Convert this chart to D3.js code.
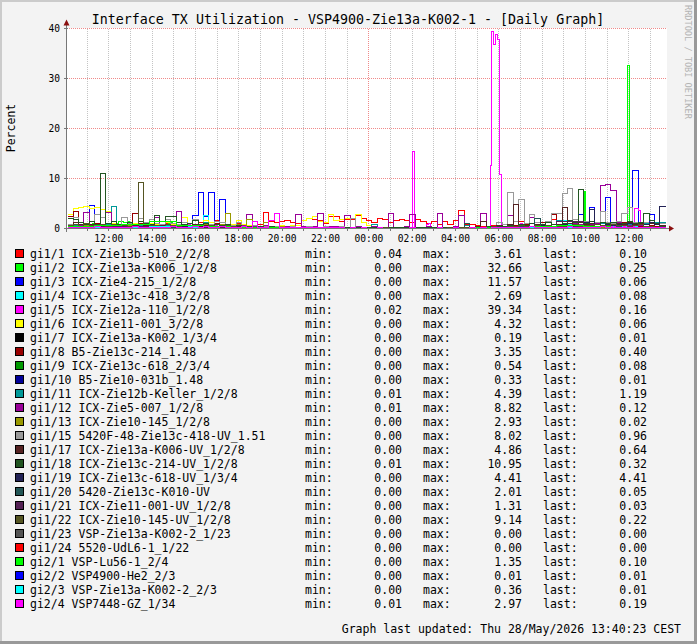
<!DOCTYPE html>
<html>
<head>
<meta charset="utf-8">
<script src="https://cdn.jsdelivr.net/npm/d3@7"></script>
<style>
  body { margin: 0; background: #fff; }
  svg { display: block; }
  text { font-family: "DejaVu Sans Mono", monospace; fill: #000; }
</style>
</head>
<body>
<svg id="chart"></svg>
<script>
// ---- legend / series meta ----
const seriesNames = [
  "gi1/1 ICX-Zie13b-510_2/2/8", "gi1/2 ICX-Zie13a-K006_1/2/8", "gi1/3 ICX-Zie4-215_1/2/8",
  "gi1/4 ICX-Zie13c-418_3/2/8", "gi1/5 ICX-Zie12a-110_1/2/8", "gi1/6 ICX-Zie11-001_3/2/8",
  "gi1/7 ICX-Zie13a-K002_1/3/4", "gi1/8 B5-Zie13c-214_1.48", "gi1/9 ICX-Zie13c-618_2/3/4",
  "gi1/10 B5-Zie10-031b_1.48", "gi1/11 ICX-Zie12b-Keller_1/2/8", "gi1/12 ICX-Zie5-007_1/2/8",
  "gi1/13 ICX-Zie10-145_1/2/8", "gi1/15 5420F-48-Zie13c-418-UV_1.51", "gi1/17 ICX-Zie13a-K006-UV_1/2/8",
  "gi1/18 ICX-Zie13c-214-UV_1/2/8", "gi1/19 ICX-Zie13c-618-UV_1/3/4", "gi1/20 5420-Zie13c-K010-UV",
  "gi1/21 ICX-Zie11-001-UV_1/2/8", "gi1/22 ICX-Zie10-145-UV_1/2/8", "gi1/23 VSP-Zie13a-K002-2_1/23",
  "gi1/24 5520-UdL6-1_1/22", "gi2/1 VSP-Lu56-1_2/4", "gi2/2 VSP4900-He2_2/3",
  "gi2/3 VSP-Zie13a-K002-2_2/3", "gi2/4 VSP7448-GZ_1/34"
];
const seriesColors = [
  "#ff0000", "#00ff00", "#0000ff", "#00ffff", "#ff00ff", "#ffff00", "#000000", "#990000",
  "#009900", "#000099", "#009999", "#990099", "#999900", "#999999", "#552222", "#225522",
  "#222255", "#225555", "#552255", "#555522", "#555555", "#ff0000", "#00ff00", "#0000ff",
  "#00ffff", "#ff00ff"
];
const statMin  = [0.04,0.00,0.00,0.00,0.02,0.00,0.00,0.00,0.00,0.00,0.01,0.01,0.00,0.00,0.00,0.01,0.00,0.00,0.00,0.00,0.00,0.00,0.00,0.00,0.00,0.01];
const statMax  = [3.61,32.66,11.57,2.69,39.34,4.32,0.19,3.35,0.54,0.33,4.39,8.82,2.93,8.02,4.86,10.95,4.41,2.01,1.31,9.14,0.00,0.00,1.35,0.01,0.36,2.97];
const statLast = [0.10,0.25,0.06,0.08,0.16,0.06,0.01,0.40,0.08,0.01,1.19,0.12,0.02,0.96,0.64,0.32,4.41,0.05,0.03,0.22,0.00,0.00,0.10,0.01,0.01,0.19];

const yTicks = [0, 10, 20, 30, 40];

// ---- time window ----
const viewStart = new Date(2026, 4, 27, 10, 5, 40);
const viewEnd   = new Date(2026, 4, 28, 13, 47, 0);
const dataStart = new Date(2026, 4, 27, 10, 6, 0);
const dataEnd   = new Date(2026, 4, 28, 13, 41, 0);

// ---- series values (each array spans dataStart..dataEnd evenly) ----
const gi1_1 = [
  0.5,0.6,0.4,0.8,0.5,0.3,0.6,0.9,0.5,0.4,
  0.7,1.2,0.6,0.4,0.5,0.8,0.6,0.4,1.0,0.5,
  0.3,0.6,0.4,0.8,1.3,0.6,0.5,1.6,0.7,0.4,
  0.6,1.1,0.5,0.3,0.6,0.9,3.2,1.5,1.3,1.4,
  1.6,1.2,1.0,1.6,2.1,1.9,1.6,1.1,2.5,2.4,
  1.4,1.9,1.8,2.7,2.0,1.6,1.2,2.1,1.8,1.2,
  1.6,1.9,1.7,1.2,1.9,1.5,1.0,1.5,0.8,1.4,
  0.8,1.6,3.61,0.8,0.8,0.6,0.5,0.4,0.6,0.4,
  0.4,0.3,0.5,1.4,0.4,0.3,0.6,0.4,0.5,1.8,
  0.4,0.6,0.3,0.5,0.7,0.4,0.3,0.5,1.2,0.4,
  0.3,0.6,0.4,0.3,0.5,0.8,0.3,0.4,0.2,0.1
];
// 5-minute samples
const gi1_2 = [
  0.6,0.6,0.7,0.8,0.8,0.9,0.8,0.7,0.8,0.9,0.9,0.8,0.8,0.9,1.0,0.9,0.8,0.8,0.9,0.9,0.8,0.9,1.0,0.9,
  0.9,0.8,0.9,1.0,1.4,1.5,1.5,1.3,1.3,1.4,1.3,1.2,1.1,0.9,0.9,0.8,0.9,1.0,0.9,0.8,0.8,0.9,0.9,0.8,
  0.8,0.9,1.0,0.9,0.8,0.7,0.8,0.9,1.1,1.2,1.1,0.9,0.8,0.7,0.7,0.8,0.9,0.8,0.7,0.7,0.6,0.7,0.8,0.7,
  0.6,0.6,0.7,0.6,0.5,0.6,0.7,0.6,0.5,0.5,0.6,0.5,0.5,0.4,0.5,0.6,0.5,0.4,0.4,0.5,0.4,0.4,0.5,0.4,
  0.4,0.3,0.3,0.4,0.3,0.3,0.4,0.3,0.3,0.3,0.4,0.3,0.3,0.3,0.3,0.3,0.4,0.3,0.3,0.3,0.3,0.3,0.3,0.3,
  0.3,0.3,0.2,0.3,0.3,0.3,0.2,0.3,0.3,0.3,0.3,0.2,0.3,0.3,0.3,0.3,0.2,0.3,0.3,0.2,0.3,0.3,0.3,0.3,
  0.3,0.2,0.3,0.3,0.2,0.3,0.3,0.3,0.2,0.3,0.3,0.2,0.3,0.2,0.3,0.3,0.2,0.2,0.3,0.2,0.2,0.3,0.2,0.2,
  0.2,0.2,0.1,0.2,0.2,0.2,0.1,0.2,0.2,0.1,0.2,0.2,0.2,0.1,0.2,0.2,0.1,0.2,0.2,0.2,0.1,0.2,0.2,0.1,
  0.1,0.2,0.1,0.1,0.2,0.1,0.1,0.1,0.2,0.1,0.1,0.1,0.2,0.1,0.1,0.1,0.1,0.2,0.1,0.1,0.1,0.1,0.2,0.1,
  0.1,0.1,0.1,0.2,0.1,0.1,0.1,0.1,0.2,0.1,0.1,0.1,0.1,0.1,0.2,0.1,0.1,0.1,0.1,0.2,0.1,0.1,0.2,0.2,
  0.2,0.2,0.3,0.2,0.2,0.3,0.2,0.3,0.3,0.2,0.3,0.3,0.2,0.3,0.4,0.3,0.3,0.2,0.3,0.4,0.3,0.3,0.4,0.3,
  0.3,0.4,0.3,0.3,0.4,0.5,0.3,0.4,0.3,0.4,0.5,0.4,0.3,0.4,0.4,0.3,0.5,0.4,0.3,0.4,0.5,0.4,7.4,0.5,
  0.4,0.3,0.4,0.5,0.4,0.3,0.4,0.3,0.5,0.4,0.3,0.4,0.3,0.4,0.5,0.4,0.3,0.4,0.3,0.4,0.5,0.4,32.66,0.4,
  0.3,0.4,0.3,0.5,0.4,0.3,0.4,0.3,0.3,0.4,0.3,0.4,0.3,0.3,0.4,0.3,0.3,0.2,0.25
];
const gi1_3 = [
  0.2,0.3,0.2,0.4,4.6,0.5,0.3,0.2,0.3,0.2,
  0.3,0.2,0.4,0.3,0.2,0.3,0.5,0.3,0.2,0.4,
  0.3,0.2,0.5,2.6,7.3,2.5,7.2,0.8,5.7,0.4,
  0.3,0.2,0.2,0.3,0.2,0.1,0.2,0.1,0.1,0.1,
  0.1,0.1,0.1,0.1,0.1,0.1,0.1,0.1,0.1,0.1,
  0.1,0.1,0.0,0.1,0.1,0.0,0.1,0.1,0.0,0.1,
  0.0,0.1,0.0,0.0,0.1,0.0,0.0,0.1,0.0,0.0,
  0.1,0.0,0.0,0.1,0.0,0.1,0.0,0.1,0.2,0.1,
  0.2,0.1,0.3,0.2,0.4,0.3,0.2,0.5,0.3,0.4,
  0.3,0.5,0.4,0.6,2.9,0.8,4.2,0.9,0.7,6.3,
  1.2,0.8,0.6,0.9,11.57,0.7,0.5,2.9,0.4,0.06
];
const gi1_4 = [
  0.1,0.2,0.1,0.2,0.3,0.2,0.1,0.2,0.3,0.2,
  0.2,0.3,0.2,0.1,0.2,0.3,0.2,0.2,0.3,0.2,
  0.2,0.3,0.4,0.3,0.5,2.69,0.6,0.3,0.2,0.2,
  0.1,0.2,0.1,0.1,0.2,0.1,0.1,0.1,0.1,0.1,
  0.1,0.1,0.0,0.1,0.1,0.0,0.1,0.0,0.1,0.0,
  0.0,0.1,0.0,0.0,0.0,0.1,0.0,0.0,0.0,0.0,
  0.0,0.0,0.1,0.0,0.0,0.0,0.0,0.1,0.0,0.0,
  0.0,0.1,0.0,0.0,0.1,0.0,0.1,0.0,0.1,0.1,
  0.1,0.2,0.1,0.3,0.2,0.4,0.2,0.3,0.5,0.3,
  0.4,1.6,0.8,0.5,0.4,0.6,0.3,0.5,0.4,0.3,
  0.4,0.3,0.5,0.3,0.4,0.2,0.3,0.2,0.1,0.08
];
// 5-minute samples
const gi1_5 = [
  0.9,0.9,0.9,0.8,0.8,0.7,0.7,0.7,0.6,0.6,0.7,0.6,0.6,0.5,0.6,0.6,0.5,0.5,0.6,0.5,0.5,0.6,0.5,0.5,
  0.5,0.6,0.5,0.5,0.6,0.7,0.6,0.5,0.5,0.6,0.5,0.5,0.6,0.5,0.6,0.7,0.6,0.6,0.7,0.6,0.5,0.6,0.6,0.7,
  0.7,0.6,0.7,0.8,0.7,0.6,0.7,0.7,0.8,0.9,0.8,0.7,0.7,0.8,0.7,0.6,0.7,0.8,0.9,0.8,0.7,0.6,0.7,0.6,
  0.6,0.5,0.6,0.7,0.6,0.5,0.5,0.6,0.5,0.5,0.6,0.5,0.4,0.5,0.5,0.4,0.5,0.4,0.4,0.5,0.4,0.4,0.5,0.4,
  0.4,0.4,0.3,0.4,0.4,0.3,0.4,0.4,0.3,0.3,0.4,0.3,0.3,0.4,0.3,0.3,0.3,0.4,0.3,0.3,0.3,0.3,0.3,0.3,
  0.3,0.3,0.2,0.3,0.3,0.2,0.3,0.3,0.2,0.3,0.2,0.2,0.3,0.2,0.3,0.2,0.2,0.3,0.2,0.2,0.2,0.3,0.2,0.2,
  0.2,0.2,0.2,0.1,0.2,0.2,0.1,0.2,0.2,0.2,0.1,0.2,0.1,0.2,0.2,0.1,0.1,0.2,0.1,0.1,0.2,0.1,0.1,0.1,
  0.1,0.1,0.1,0.1,0.2,0.1,0.1,0.1,0.1,0.1,0.1,0.1,0.1,0.1,0.1,0.1,0.1,0.1,0.1,0.2,0.1,0.1,0.1,15.4,
  0.2,0.1,0.1,0.1,0.1,0.1,0.1,0.9,1.1,0.2,0.1,0.1,0.1,0.1,0.1,0.1,0.1,0.1,0.1,0.1,0.1,0.1,0.1,0.1,
  0.1,0.1,0.1,0.1,0.1,0.1,0.1,0.1,0.1,0.1,0.1,0.1,0.1,0.1,0.2,0.2,0.2,0.3,12.7,39.34,36.9,38.7,37.9,10.9,
  0.4,0.3,0.3,0.4,0.3,0.3,0.4,0.3,0.3,0.3,0.4,1.0,0.9,0.3,0.3,0.4,0.3,0.3,0.4,0.3,0.3,0.4,0.3,0.3,
  0.3,0.4,0.3,0.3,0.4,0.3,0.3,0.4,0.3,0.3,0.4,0.3,0.3,0.4,0.3,0.4,0.3,0.3,0.4,0.3,0.3,0.4,0.3,0.3,
  0.3,0.4,0.3,0.3,0.4,0.5,0.4,0.3,0.4,0.3,0.4,0.3,0.3,0.4,0.3,0.4,0.3,0.3,0.4,0.3,0.4,0.3,0.3,0.4,
  0.3,0.4,4.0,4.0,3.6,0.4,0.3,0.4,0.3,0.3,0.4,0.3,0.2,0.3,0.2,0.3,0.2,0.2,0.16
];
const gi1_6 = [
  2.8,4.0,4.3,4.32,4.0,4.1,3.7,3.4,1.0,0.8,
  0.9,0.7,1.1,0.8,0.6,1.0,0.8,0.7,1.2,0.9,
  0.8,2.3,1.0,0.7,0.9,1.6,1.2,0.8,0.6,0.7,
  0.9,1.6,0.8,0.6,0.7,0.5,0.6,0.4,0.5,0.6,
  0.5,0.7,0.6,1.7,2.0,2.5,1.4,1.2,2.9,1.6,
  1.8,2.1,2.0,2.9,1.3,0.6,0.4,0.3,0.2,0.2,
  0.2,0.1,0.2,0.1,0.1,0.2,0.1,0.1,0.1,0.1,
  0.1,0.1,0.1,0.2,0.1,0.1,0.1,0.2,0.1,0.1,
  0.2,0.1,0.2,0.3,0.2,0.1,0.2,0.3,0.2,0.2,
  0.3,0.2,0.4,0.3,0.2,0.5,0.3,0.2,0.4,0.3,
  0.2,0.3,0.2,0.4,0.2,0.3,0.1,0.2,0.1,0.06
];
const gi1_7 = [0.05,0.08,0.1,0.06,0.12,0.19,0.07,0.04,0.03,0.02,0.02,0.02,0.01,0.02,0.01,0.03,0.05,0.08,0.1,0.06,0.04,0.01];
const gi1_8 = [
  2.5,3.35,1.2,0.8,0.6,1.0,0.7,0.5,0.9,0.6,
  0.8,0.5,3.0,1.1,0.6,0.8,0.5,0.7,0.9,0.6,
  0.5,0.8,0.6,0.4,0.7,0.5,0.6,1.1,0.5,0.4,
  0.6,0.4,0.5,0.3,0.4,0.3,0.5,0.3,0.2,0.3,
  0.2,0.3,0.2,0.2,0.3,0.2,0.2,0.3,0.2,0.2,
  0.2,0.2,0.1,0.2,0.2,0.1,0.2,0.1,0.1,0.2,
  0.1,0.1,0.2,0.1,0.1,0.1,0.2,0.1,0.1,0.1,
  0.1,0.2,0.1,0.1,0.2,0.1,0.3,0.2,0.4,0.3,
  0.5,0.3,0.6,0.4,0.8,0.5,0.7,1.2,0.6,2.9,
  0.7,0.9,0.6,1.3,0.8,1.1,0.7,0.9,0.6,1.0,
  0.8,0.6,1.2,0.7,0.9,0.5,0.8,0.6,0.5,0.40
];
const gi1_9  = [0.3,0.4,0.5,0.4,0.54,0.3,0.2,0.2,0.1,0.1,0.1,0.1,0.1,0.1,0.1,0.2,0.3,0.3,0.4,0.3,0.2,0.08];
const gi1_10 = [0.2,0.3,0.2,0.33,0.2,0.1,0.1,0.1,0.05,0.05,0.03,0.02,0.02,0.02,0.03,0.05,0.1,0.2,0.3,0.2,0.1,0.01];
const gi1_11 = [
  0.4,0.6,0.5,0.7,0.5,0.8,0.6,0.9,4.39,0.7,
  0.6,0.5,0.8,0.6,0.5,0.7,0.6,0.5,0.7,0.6,
  0.5,0.4,0.6,0.5,0.7,1.2,0.6,0.5,0.4,0.5,
  0.4,0.3,0.4,0.3,0.3,0.2,0.3,0.2,0.2,0.3,
  0.2,0.2,0.3,0.2,0.2,0.2,0.3,0.2,0.2,0.2,
  0.2,0.2,0.2,0.3,0.2,0.2,0.8,0.2,0.2,0.2,
  0.2,0.1,0.2,0.2,0.1,0.2,0.2,0.1,0.2,0.2,
  0.2,0.3,0.2,0.6,0.2,0.3,0.2,0.3,0.4,0.3,
  0.4,0.3,0.5,0.4,0.6,0.5,0.4,0.7,0.6,0.5,
  1.6,0.8,0.7,0.9,0.6,0.8,0.7,0.9,1.1,0.8,
  0.9,0.7,1.0,0.8,1.2,0.9,1.1,1.0,1.3,1.19
];
const gi1_12 = [
  0.5,0.8,0.6,3.2,0.7,0.5,0.9,3.3,0.6,0.8,
  0.5,0.7,0.6,0.8,0.5,0.6,2.3,0.7,0.5,0.6,
  3.4,0.7,0.6,0.8,0.5,0.7,0.6,0.5,0.8,0.6,
  0.5,0.7,0.6,2.8,0.5,0.4,0.6,0.5,0.4,0.5,
  0.4,0.5,2.9,0.4,0.5,0.4,3.1,0.4,0.5,0.4,
  0.4,2.6,0.3,0.4,0.3,0.3,0.4,0.3,0.3,3.1,
  0.3,0.3,0.4,2.9,0.3,0.3,0.4,0.3,3.1,0.3,
  0.3,0.4,2.6,0.3,0.3,0.4,3.1,0.3,0.4,0.3,
  0.4,2.6,0.5,0.4,0.6,2.3,0.5,0.7,0.6,0.8,
  0.7,0.9,0.6,1.0,0.8,1.2,0.9,1.1,8.6,8.82,
  7.6,1.3,0.9,0.7,0.8,0.6,0.5,0.4,0.3,0.12
];
const gi1_13 = [
  0.3,0.5,0.4,0.6,0.4,0.5,0.7,0.4,0.6,0.5,
  0.4,0.6,0.5,0.4,0.7,0.5,0.6,0.4,0.5,0.6,
  0.5,0.4,0.6,0.5,0.7,0.8,0.6,0.5,0.9,2.93,
  0.6,0.8,0.5,1.9,0.6,0.5,1.2,0.4,0.3,0.4,
  0.3,0.2,0.3,0.2,0.2,0.3,0.2,0.2,0.1,0.2,
  0.1,0.1,0.1,0.1,0.1,0.1,0.1,0.1,0.1,0.1,
  0.1,0.1,0.1,0.1,0.1,0.1,0.1,0.1,0.1,0.1,
  0.1,0.1,0.1,0.1,0.1,0.1,0.1,0.1,0.1,0.1,
  0.1,0.2,0.1,0.2,0.3,0.2,0.3,0.2,0.4,0.3,
  0.2,0.3,0.4,0.3,0.2,0.3,0.4,0.2,0.3,0.2,
  0.3,0.2,0.1,0.2,0.1,0.2,0.1,0.1,0.1,0.02
];
const gi1_15 = [
  0.9,2.3,1.2,0.8,1.5,2.8,2.3,1.0,0.8,0.9,
  2.3,1.1,0.9,2.0,1.2,1.9,1.0,0.8,1.8,1.1,
  0.9,1.2,1.0,1.9,0.8,1.1,0.9,1.4,1.3,0.7,
  0.6,1.3,0.5,0.4,0.6,0.4,0.5,0.3,0.4,0.3,
  0.3,0.4,0.3,0.3,0.4,0.3,0.3,0.4,0.3,0.3,
  0.4,0.3,2.0,0.3,0.3,0.2,0.3,0.2,0.2,0.3,
  0.2,0.2,0.3,0.2,0.2,0.3,0.2,0.2,0.3,0.2,
  0.2,0.3,0.2,0.3,0.2,0.4,0.3,0.5,0.4,1.2,
  0.8,7.3,1.5,5.7,1.1,2.8,1.2,0.9,1.5,3.0,
  3.0,7.0,8.02,1.8,1.2,1.5,1.0,1.3,3.5,1.2,
  1.0,1.4,3.0,4.3,1.2,0.9,1.3,1.1,0.8,0.96
];
const gi1_17 = [
  0.6,1.2,0.8,0.5,0.9,0.6,0.7,1.0,0.5,0.8,
  0.6,0.9,0.7,1.5,0.6,0.8,0.5,0.7,0.9,0.6,
  0.5,0.7,0.6,0.8,0.5,0.6,0.4,0.5,0.6,0.4,
  0.3,0.4,0.3,0.2,0.3,0.2,0.3,0.2,0.2,0.3,
  0.2,0.2,0.2,0.3,0.2,0.2,0.2,0.2,0.3,0.2,
  0.2,0.2,0.2,0.2,0.3,0.2,0.2,0.2,0.2,0.2,
  0.2,0.2,0.2,0.2,0.2,0.3,0.2,0.2,0.2,0.2,
  0.2,0.2,0.3,0.2,0.2,0.4,1.4,0.5,0.4,0.6,
  0.5,0.8,4.86,0.9,0.6,1.1,0.8,0.7,1.2,0.9,
  0.8,4.1,1.0,0.9,1.3,0.8,1.1,0.9,1.2,1.0,
  0.9,1.1,0.8,1.3,0.9,1.0,0.8,1.1,0.9,0.64
];
const gi1_18 = [
  2.0,1.8,1.2,0.9,1.4,0.8,10.95,1.0,1.5,0.9,
  0.8,1.2,0.9,1.4,1.1,0.8,2.7,1.5,2.4,2.5,
  1.2,0.9,1.1,1.7,0.8,1.0,0.7,0.9,0.6,0.8,
  0.5,0.6,0.4,0.5,0.3,0.4,0.3,0.4,0.3,0.3,
  0.3,0.2,0.3,0.2,0.3,0.2,0.2,0.3,0.2,0.2,
  0.2,0.2,0.3,0.2,0.2,0.2,0.2,0.3,0.2,0.2,
  0.2,0.2,0.2,0.3,0.2,0.2,0.2,0.2,0.2,0.3,
  0.2,0.2,0.3,0.2,0.3,0.2,0.3,0.4,0.3,0.5,
  0.4,0.6,0.5,0.8,0.6,1.0,0.7,0.9,1.2,0.8,
  1.4,1.0,1.6,1.2,7.9,1.1,1.4,0.9,1.2,1.0,
  1.3,0.9,1.1,1.4,1.0,1.2,3.0,1.6,1.1,0.32
];
const gi1_19 = [
  0.3,0.4,0.3,0.5,0.4,0.3,0.4,0.5,0.3,0.4,
  0.3,0.4,0.5,0.3,0.4,0.3,0.5,0.4,0.3,0.4,
  0.3,0.4,0.3,0.5,0.3,0.4,0.3,0.3,0.4,0.3,
  0.2,0.3,0.2,0.2,0.3,0.2,0.2,0.2,0.1,0.2,
  0.1,0.2,0.1,0.1,0.2,0.1,0.1,0.1,0.1,0.1,
  0.1,0.1,0.1,0.1,0.1,0.1,0.1,0.1,0.1,0.1,
  0.1,0.1,0.1,0.1,0.1,0.1,0.1,0.1,0.1,0.1,
  0.1,0.1,0.1,0.1,0.2,0.1,0.2,0.1,0.2,0.2,
  0.3,0.2,0.4,0.3,0.5,0.4,0.3,0.6,0.4,0.5,
  0.6,0.8,0.5,0.9,0.7,1.2,3.8,0.8,0.6,0.9,
  0.7,0.8,0.6,1.0,0.7,0.9,0.8,1.2,0.9,4.41
];
const gi1_20 = [
  0.3,0.4,0.3,0.5,0.4,0.3,0.4,0.3,0.5,0.4,
  0.3,0.4,0.3,0.4,0.3,0.5,0.3,0.4,0.3,0.3,
  0.4,0.3,0.3,0.4,0.3,0.3,0.2,0.3,0.2,0.3,
  0.2,0.2,0.2,0.1,0.2,0.1,0.1,0.2,0.1,0.1,
  0.1,0.1,0.1,0.1,0.1,0.1,0.1,0.1,0.1,0.1,
  0.1,0.1,0.1,0.1,0.1,0.1,0.1,0.1,0.1,0.1,
  0.1,0.1,0.1,0.1,0.1,0.1,0.1,0.1,0.1,0.1,
  0.1,0.1,0.1,1.0,0.1,0.1,0.2,0.1,0.2,0.2,
  0.2,0.3,0.2,0.4,0.3,0.2,2.01,0.3,0.4,0.3,
  0.4,0.3,0.5,0.4,0.3,0.5,0.4,0.3,0.4,0.3,
  0.3,0.4,0.3,0.2,0.3,0.2,0.1,0.2,0.1,0.05
];
const gi1_21 = [0.3,0.4,0.5,0.4,0.3,0.2,0.2,0.1,0.1,0.1,0.1,0.1,0.1,0.1,0.1,0.2,0.3,0.4,1.31,0.5,0.3,0.03];
const gi1_22 = [
  0.6,0.8,0.5,1.0,0.7,0.6,0.9,0.5,0.8,0.6,
  0.7,0.5,0.9,9.14,0.8,0.6,0.7,0.5,0.8,0.6,
  0.5,0.7,0.6,0.4,0.6,0.5,0.7,0.4,0.5,0.6,
  0.4,0.3,0.4,0.3,0.2,0.3,0.2,0.2,0.3,0.2,
  0.2,0.1,0.2,0.1,0.2,0.1,0.1,0.2,0.1,0.1,
  0.1,0.1,0.2,0.1,0.1,0.1,0.1,0.1,0.2,0.1,
  0.1,0.1,0.1,0.2,0.1,0.1,0.1,0.1,0.1,0.1,
  0.2,0.1,0.2,0.2,0.3,0.2,0.3,0.2,0.4,0.3,
  0.3,0.5,0.4,0.6,0.5,0.4,0.7,0.5,0.6,0.4,
  0.5,0.7,0.6,0.8,0.5,0.7,0.6,0.9,0.7,0.6,
  0.8,0.6,0.7,0.5,0.6,0.8,0.5,0.4,0.3,0.22
];
const gi1_23 = [0,0,0,0,0,0,0,0,0,0,0,0,0,0,0,0,0,0,0,0,0,0];
const gi1_24 = [0,0,0,0,0,0,0,0,0,0,0,0,0,0,0,0,0,0,0,0,0,0];
const gi2_1  = [0.4,0.6,0.8,1.35,0.7,0.5,0.3,0.2,0.1,0.1,0.1,0.1,0.1,0.1,0.1,0.2,0.3,0.5,0.6,0.4,0.3,0.10];
const gi2_2  = [0.01,0,0,0.01,0,0,0,0,0,0,0,0,0,0,0,0,0,0.01,0,0,0,0.01];
const gi2_3  = [0.1,0.2,0.3,0.36,0.2,0.1,0.1,0.05,0.02,0.02,0.02,0.02,0.02,0.02,0.05,0.1,0.2,0.3,0.2,0.1,0.05,0.01];
const gi2_4 = [
  0.2,0.3,0.2,0.3,0.2,0.4,0.3,0.2,0.3,0.2,
  0.3,0.2,0.4,0.3,0.2,0.3,0.2,0.3,0.2,0.4,
  0.3,0.2,0.3,0.5,0.3,0.4,0.3,0.2,0.4,0.3,
  0.2,0.3,0.4,0.3,1.4,0.2,0.3,1.6,2.97,0.3,
  0.2,0.3,0.2,0.2,0.3,0.2,0.2,0.3,0.2,0.2,
  0.2,0.1,0.2,0.1,0.2,0.1,0.1,0.2,0.1,0.1,
  0.1,0.1,0.1,0.2,0.1,0.1,0.1,0.1,0.2,0.1,
  0.1,0.2,0.1,0.1,0.2,0.1,0.2,0.1,0.2,0.2,
  0.2,0.3,0.2,0.3,0.2,0.4,0.3,0.2,0.3,0.2,
  0.3,0.2,0.4,0.3,0.2,0.3,0.2,0.3,0.4,0.3,
  0.2,0.3,0.2,0.3,0.2,0.3,0.2,0.2,0.3,0.19
];

const seriesValues = [
  gi1_1, gi1_2, gi1_3, gi1_4, gi1_5, gi1_6, gi1_7, gi1_8, gi1_9, gi1_10, gi1_11, gi1_12, gi1_13,
  gi1_15, gi1_17, gi1_18, gi1_19, gi1_20, gi1_21, gi1_22, gi1_23, gi1_24, gi2_1, gi2_2, gi2_3, gi2_4
];

// ---- layout ----
const W = 697, H = 644;
const plotLeft = 67, plotRight = 667, plotTop = 28.5, plotBottom = 228.5;

const svg = d3.select("#chart").attr("width", W).attr("height", H);

svg.append("rect").attr("width", W).attr("height", H).attr("fill", "#f3f3f3");
// 3d-ish frame like rrdtool's shade colors
svg.append("path").attr("d", `M1,${H} V1 H${W}`).attr("fill", "none")
  .attr("stroke", "#cbcbcb").attr("stroke-width", 2);
svg.append("path").attr("d", `M0,${H - 1.5} H${W - 1.5} V0`).attr("fill", "none")
  .attr("stroke", "#999").attr("stroke-width", 3);

const x = d3.scaleTime().domain([viewStart, viewEnd]).range([plotLeft, plotRight]);
const y = d3.scaleLinear().domain([0, 40]).range([plotBottom, plotTop]);

svg.append("rect")
  .attr("x", plotLeft).attr("y", plotTop - 0.5)
  .attr("width", plotRight - plotLeft).attr("height", plotBottom - plotTop + 0.5)
  .attr("fill", "#fff");

// grid
const grid = svg.append("g").attr("shape-rendering", "crispEdges");
const hours = x.ticks(d3.timeHour.every(1));
const isMidnight = d => d.getHours() === 0;

grid.selectAll(".vminor").data(hours.filter(d => !isMidnight(d))).join("line")
  .attr("x1", d => Math.round(x(d)) + 0.5).attr("x2", d => Math.round(x(d)) + 0.5)
  .attr("y1", plotTop).attr("y2", plotBottom)
  .attr("stroke", "#c4c4c4").attr("stroke-dasharray", "1,1");

grid.selectAll(".vmajor").data(hours.filter(isMidnight)).join("line")
  .attr("x1", d => Math.round(x(d)) + 0.5).attr("x2", d => Math.round(x(d)) + 0.5)
  .attr("y1", plotTop).attr("y2", plotBottom)
  .attr("stroke", "#f08a8a").attr("stroke-dasharray", "1,1");

grid.selectAll(".hmajor").data(yTicks.filter(v => v > 0)).join("line")
  .attr("x1", plotLeft).attr("x2", plotRight)
  .attr("y1", d => y(d)).attr("y2", d => y(d))
  .attr("stroke", "#f08a8a").attr("stroke-dasharray", "1,1");

// series
svg.append("clipPath").attr("id", "plotclip")
  .append("rect").attr("x", plotLeft).attr("y", 18)
  .attr("width", plotRight - plotLeft).attr("height", plotBottom - 18 + 1);

const line = d3.line()
  .curve(d3.curveStepAfter)
  .x(d => Math.round(x(d[0])) + 0.5)
  .y(d => Math.round(y(d[1]) - 0.5) + 0.5);

function toPoints(values) {
  const step = (dataEnd - dataStart) / values.length;
  const pts = values.map((v, k) => [new Date(+dataStart + k * step), v]);
  pts.push([dataEnd, values[values.length - 1]]);
  return pts;
}

svg.append("g").attr("clip-path", "url(#plotclip)")
  .selectAll("path").data(seriesValues).join("path")
  .attr("d", d => line(toPoints(d)))
  .attr("fill", "none")
  .attr("stroke", (d, i) => seriesColors[i])
  .attr("stroke-width", 1)
  .attr("shape-rendering", "crispEdges");

// axes (labels via d3 axes)
const xAxis = d3.axisBottom(x)
  .ticks(d3.timeHour.every(2))
  .tickFormat(d3.timeFormat("%H:%M"))
  .tickSize(0);
const gx = svg.append("g").attr("transform", `translate(0,${plotBottom})`).call(xAxis);
gx.select(".domain").remove();
gx.selectAll("text").attr("y", 13).attr("dy", null)
  .attr("font-family", "DejaVu Sans Mono").attr("font-size", 9.6).attr("fill", "#000");

const yAxis = d3.axisLeft(y).tickValues(yTicks).tickSize(0).tickPadding(7);
const gy = svg.append("g").attr("transform", `translate(${plotLeft},0)`).call(yAxis);
gy.select(".domain").remove();
gy.selectAll("text").attr("dy", "0.35em")
  .attr("font-family", "DejaVu Sans Mono").attr("font-size", 9.6).attr("fill", "#000");

// small ticks on the axes
const ticks = svg.append("g").attr("shape-rendering", "crispEdges").attr("stroke", "#777");
ticks.selectAll(".xt").data(hours).join("line")
  .attr("x1", d => Math.round(x(d)) + 0.5).attr("x2", d => Math.round(x(d)) + 0.5)
  .attr("y1", plotBottom - 1).attr("y2", plotBottom + 2);
ticks.selectAll(".yt").data(yTicks).join("line")
  .attr("x1", plotLeft - 3).attr("x2", plotLeft + 1)
  .attr("y1", d => y(d)).attr("y2", d => y(d));

// axis lines with arrows
svg.append("line").attr("x1", plotLeft - 3).attr("x2", plotRight + 3)
  .attr("y1", plotBottom).attr("y2", plotBottom)
  .attr("stroke", "#777").attr("shape-rendering", "crispEdges");
svg.append("line").attr("x1", plotLeft - 0.5).attr("x2", plotLeft - 0.5)
  .attr("y1", plotBottom + 3).attr("y2", plotTop - 5)
  .attr("stroke", "#777").attr("shape-rendering", "crispEdges");
svg.append("path")
  .attr("d", `M${plotRight + 2},${plotBottom - 3} L${plotRight + 7},${plotBottom} L${plotRight + 2},${plotBottom + 3} Z`)
  .attr("fill", "#8b1010");
svg.append("path")
  .attr("d", `M${plotLeft - 3.5},${plotTop - 3} L${plotLeft - 0.5},${plotTop - 9} L${plotLeft + 2.5},${plotTop - 3} Z`)
  .attr("fill", "#8b1010");

// title, axis label, watermark
svg.append("text").attr("x", 348).attr("y", 24).attr("text-anchor", "middle")
  .attr("font-size", 13.3)
  .text("Interface TX Utilization - VSP4900-Zie13a-K002-1 - [Daily Graph]");

svg.append("text").attr("transform", "translate(15,128) rotate(-90)")
  .attr("text-anchor", "middle").attr("font-size", 11.5).text("Percent");

svg.append("text").attr("transform", "translate(685,5) rotate(90)")
  .attr("font-size", 8.6).style("fill", "#b4b4b4")
  .text("RRDTOOL / TOBI OETIKER");

// legend
const fmt = d3.format(".2f");
const rowY = i => 258 + i * 14;
const legend = svg.append("g").attr("font-size", 11.5);
const rows = legend.selectAll("g").data(seriesNames).join("g");

rows.append("rect")
  .attr("x", 15.5).attr("y", (d, i) => rowY(i) - 8.5)
  .attr("width", 8).attr("height", 8)
  .attr("fill", (d, i) => seriesColors[i])
  .attr("stroke", "#000").attr("stroke-width", 1).attr("shape-rendering", "crispEdges");
rows.append("text").attr("x", 30).attr("y", (d, i) => rowY(i)).text(d => d);
rows.append("text").attr("x", 305).attr("y", (d, i) => rowY(i)).text("min:");
rows.append("text").attr("x", 402).attr("y", (d, i) => rowY(i)).attr("text-anchor", "end")
  .text((d, i) => fmt(statMin[i]));
rows.append("text").attr("x", 423).attr("y", (d, i) => rowY(i)).text("max:");
rows.append("text").attr("x", 522).attr("y", (d, i) => rowY(i)).attr("text-anchor", "end")
  .text((d, i) => fmt(statMax[i]));
rows.append("text").attr("x", 543).attr("y", (d, i) => rowY(i)).text("last:");
rows.append("text").attr("x", 647).attr("y", (d, i) => rowY(i)).attr("text-anchor", "end")
  .text((d, i) => fmt(statLast[i]));

svg.append("text").attr("x", 681).attr("y", 633).attr("text-anchor", "end")
  .attr("font-size", 11.5)
  .text("Graph last updated: Thu 28/May/2026 13:40:23 CEST");
</script>
</body>
</html>
